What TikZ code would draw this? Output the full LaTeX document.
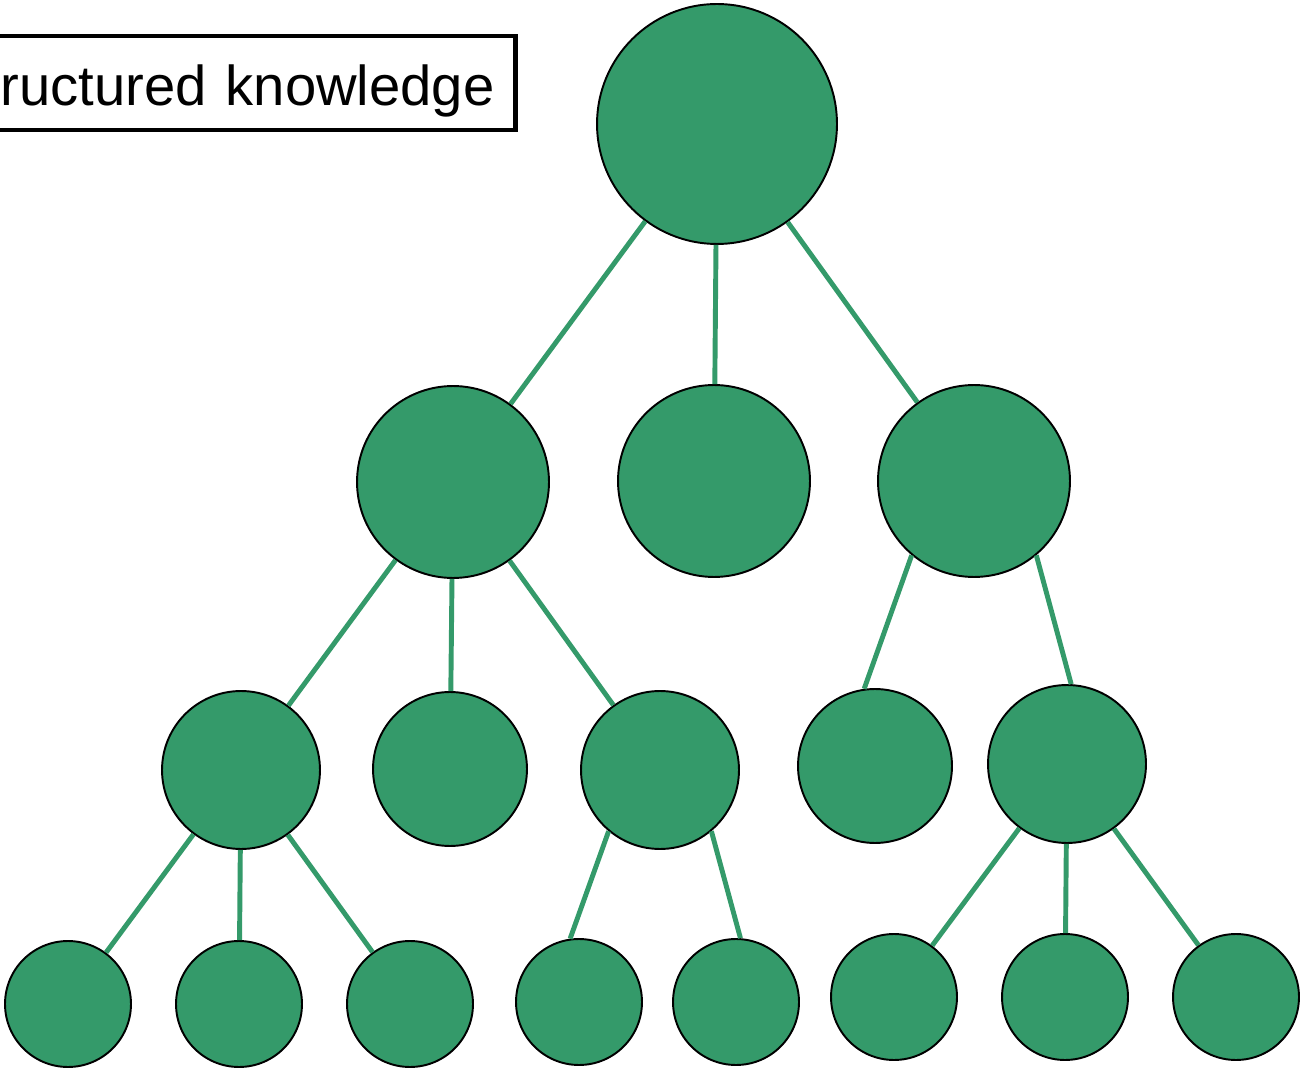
\documentclass[tikz,border=0pt]{standalone}
\usepackage{fontspec}
\setmainfont{Liberation Sans}
\usetikzlibrary{positioning}
\definecolor{treegreen}{HTML}{349A6A}

\begin{document}
\begin{tikzpicture}[
    x=0.02cm, y=-0.02cm,
    topnode/.style={
        circle,
        draw=black,
        line width=1.1pt,
        fill=treegreen,
        inner sep=0pt,
        minimum size=#1
    },
    branch/.style={
        treegreen,
        line width=2.8pt
    },
    labelbox/.style={
        rectangle,
        draw=black,
        line width=2.8pt,
        fill=white,
        font=\fontsize{32}{40}\selectfont,
        text width=11.6cm,
        text height=1.2cm,
        text depth=0.28cm,
        align=right,
        inner xsep=0.42cm,
        inner ysep=0.2cm
    }
]

\useasboundingbox (0,0) rectangle (1301,1070);

% Label
\node[labelbox, anchor=base east] (label) at (518,106) {ructured knowledge};

% Root
\node[topnode=4.8cm] (root) at (717,124) {};

% Second level
\node[topnode=3.84cm] (left) at (453,482) {};
\node[topnode=3.84cm] (middle) at (714,481) {};
\node[topnode=3.84cm] (right) at (974,481) {};

% Third level
\node[topnode=3.16cm] (leftA) at (241,770) {};
\node[topnode=3.08cm] (leftB) at (450,769) {};
\node[topnode=3.16cm] (leftC) at (660,770) {};
\node[topnode=3.08cm] (rightA) at (875,766) {};
\node[topnode=3.16cm] (rightB) at (1067,764) {};

% Leaves
\node[topnode=2.52cm] (leaf1) at (68,1004) {};
\node[topnode=2.52cm] (leaf2) at (239,1004) {};
\node[topnode=2.52cm] (leaf3) at (410,1004) {};
\node[topnode=2.52cm] (leaf4) at (579,1002) {};
\node[topnode=2.52cm] (leaf5) at (736,1002) {};
\node[topnode=2.52cm] (leaf6) at (894,997) {};
\node[topnode=2.52cm] (leaf7) at (1065,997) {};
\node[topnode=2.52cm] (leaf8) at (1236,997) {};

% Connections
\draw[branch] (root) -- (left);
\draw[branch] (root) -- (middle);
\draw[branch] (root) -- (right);

\draw[branch] (left) -- (leftA);
\draw[branch] (left) -- (leftB);
\draw[branch] (left) -- (leftC);
\draw[branch] (right.230) -- (rightA.98);
\draw[branch] (right.310) -- (rightB.87);

\draw[branch] (leftA) -- (leaf1);
\draw[branch] (leftA) -- (leaf2);
\draw[branch] (leftA) -- (leaf3);
\draw[branch] (leftC.230) -- (leaf4.98);
\draw[branch] (leftC.310) -- (leaf5.86);
\draw[branch] (rightB) -- (leaf6);
\draw[branch] (rightB) -- (leaf7);
\draw[branch] (rightB) -- (leaf8);

\end{tikzpicture}
\end{document}
